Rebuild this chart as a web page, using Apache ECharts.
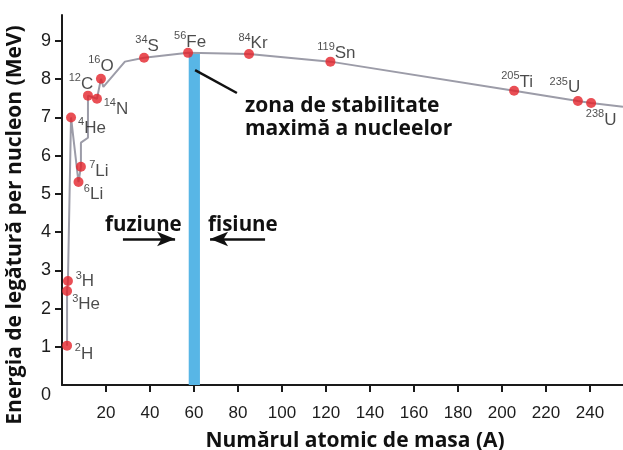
<!DOCTYPE html>
<html><head><meta charset="utf-8">
<script src="https://cdn.jsdelivr.net/npm/echarts@6/dist/echarts.min.js"></script>
<style>html,body{margin:0;padding:0;background:#fff}#c{width:623px;height:450px}</style>
</head><body><div id="c"></div>
<script>
// ---- data ----
const massNumbers = ['2','3','3','4','7','6','12','14','16','34','56','84','119','205','235','238'];
const elements    = ['H','H','He','He','Li','Li','C','N','O','S','Fe','Kr','Sn','Ti','U','U'];
const pointA = [2.3, 2.7, 2.3, 4.1, 8.6, 7.5, 11.8, 15.9, 17.7, 37.3, 57.3, 85, 122, 205.5, 234.5, 240.5];
const pointE = [1.03, 2.72, 2.46, 7.0, 5.71, 5.31, 7.57, 7.49, 8.01, 8.56, 8.69, 8.66, 8.46, 7.70, 7.43, 7.38];
const curveA = [2.3, 2.3, 2.7, 4.1, 7.5, 8.6, 8.6, 11.8, 11.8, 15.9, 17.7, 18.8, 28.6, 37.3, 57.3, 85, 122, 205.5, 234.5, 240.5, 255];
const curveE = [1.03, 2.46, 2.72, 7.0, 5.31, 5.71, 6.34, 6.47, 7.57, 7.49, 8.01, 7.8, 8.46, 8.56, 8.69, 8.66, 8.46, 7.70, 7.43, 7.38, 7.28];
const xTicks = [20, 40, 60, 80, 100, 120, 140, 160, 180, 200, 220, 240];
const yTicks = [0, 1, 2, 3, 4, 5, 6, 7, 8, 9];
const bandA = [57.6, 62.7];
const bandTop = 8.69;
const pointerLine = [[60.5, 8.24], [79.5, 7.64]];
const fusionArrow = [[27.7, 3.82], [51.4, 3.82]];
const fissionArrow = [[92.3, 3.82], [67.3, 3.82]];
const texts = {
  xTitle: 'Numărul atomic de masa (A)',
  yTitle: 'Energia de legătură per nucleon (MeV)',
  zone1: 'zona de stabilitate',
  zone2: 'maximă a nucleelor',
  fusion: 'fuziune',
  fission: 'fisiune'
};

// ---- styles ----
const labelOffsets = [[17,7],[17,-1],[19,12],[21,9],[18,3],[15,11],[-7,-13],[19,9],[0,-14],[3,-13],[2,-12],[4,-12],[6,-10],[3,-10],[-13,-15],[10,16]];
const axisColor = '#1a1a1a';
const tickFont = '"Liberation Sans", Arial, sans-serif';
const boldFont = '"Open Sans", sans-serif';

const chart = echarts.init(document.getElementById('c'), null, {renderer: 'canvas'});
const curveData = curveA.map((a, i) => [a, curveE[i]]);
const pointData = pointA.map((a, i) => ({
  value: [a, pointE[i]],
  label: {offset: labelOffsets[i]}
}));

chart.setOption({
  animation: false,
  backgroundColor: '#fff',
  grid: {left: 62, right: 0, top: 15, bottom: 65, containLabel: false, outerBoundsMode: 'none'},
  xAxis: {
    type: 'value', min: 0, max: 255,
    axisLine: {show: true, onZero: false, lineStyle: {color: axisColor, width: 2}},
    axisTick: {show: true, customValues: xTicks, length: 7, lineStyle: {color: axisColor, width: 2}},
    axisLabel: {customValues: xTicks, margin: 20, color: '#1c1c1c', fontSize: 17, fontFamily: tickFont},
    splitLine: {show: false}
  },
  yAxis: {
    type: 'value', min: 0, max: 9.68,
    axisLine: {show: true, onZero: false, lineStyle: {color: axisColor, width: 2}},
    axisTick: {show: true, customValues: yTicks.slice(1), length: 7, lineStyle: {color: axisColor, width: 2}},
    axisLabel: {
      customValues: yTicks, margin: 11, color: '#1c1c1c', fontSize: 18, fontFamily: tickFont,
      formatter: v => v === 0 ? '{z|0}' : String(v),
      rich: {z: {fontSize: 18, fontFamily: tickFont, color: '#1c1c1c', padding: [20, 0, 0, 0]}}
    },
    splitLine: {show: false}
  },
  series: [
    {
      type: 'line', z: 1, data: [], silent: true,
      markArea: {
        silent: true,
        itemStyle: {color: '#58b6e6', opacity: 1},
        data: [[{coord: [bandA[0], 0]}, {coord: [bandA[1], bandTop]}]]
      }
    },
    {
      type: 'line', z: 2, data: curveData, showSymbol: false, silent: true,
      lineStyle: {color: '#9c9ca8', width: 2}
    },
    {
      type: 'scatter', z: 4, data: pointData, symbolSize: 10,
      itemStyle: {color: '#e3232a'},
      label: {
        show: true, position: 'inside', align: 'center', verticalAlign: 'middle',
        formatter: p => '{s|' + massNumbers[p.dataIndex] + '}{e|' + elements[p.dataIndex] + '}',
        rich: {
          s: {fontSize: 11, fontFamily: tickFont, color: '#1e1e1e', verticalAlign: 'top', lineHeight: 20},
          e: {fontSize: 17, fontFamily: tickFont, color: '#1e1e1e', verticalAlign: 'bottom', lineHeight: 20}
        }
      }
    },
    {
      type: 'line', z: 5, data: [], silent: true,
      markLine: {
        silent: true, animation: false,
        label: {show: false},
        lineStyle: {color: '#111', width: 2.5, type: 'solid'},
        data: [
          [{coord: pointerLine[0], symbol: 'none'}, {coord: pointerLine[1], symbol: 'none'}],
          [{coord: fusionArrow[0], symbol: 'none'}, {coord: fusionArrow[1], symbol: 'arrow', symbolSize: [11, 18]}],
          [{coord: fissionArrow[0], symbol: 'none'}, {coord: fissionArrow[1], symbol: 'arrow', symbolSize: [11, 18]}]
        ]
      }
    }
  ],
  graphic: [
    {type: 'text', x: 245, y: 106, style: {text: texts.zone1, font: '700 21px ' + boldFont, fill: '#111', verticalAlign: 'middle'}},
    {type: 'text', x: 245, y: 129, style: {text: texts.zone2, font: '700 21px ' + boldFont, fill: '#111', verticalAlign: 'middle'}},
    {type: 'text', x: 105, y: 225, style: {text: texts.fusion, font: '700 20.5px ' + boldFont, fill: '#111', verticalAlign: 'middle'}},
    {type: 'text', x: 208, y: 225, style: {text: texts.fission, font: '700 20.5px ' + boldFont, fill: '#111', verticalAlign: 'middle'}},
    {type: 'text', x: 355, y: 441, style: {text: texts.xTitle, font: '700 21px ' + boldFont, fill: '#111', align: 'center', verticalAlign: 'middle'}},
    {type: 'text', x: 15, y: 225, rotation: Math.PI / 2, style: {text: texts.yTitle, font: '700 21px ' + boldFont, fill: '#111', align: 'center', verticalAlign: 'middle'}}
  ]
});
</script></body></html>
